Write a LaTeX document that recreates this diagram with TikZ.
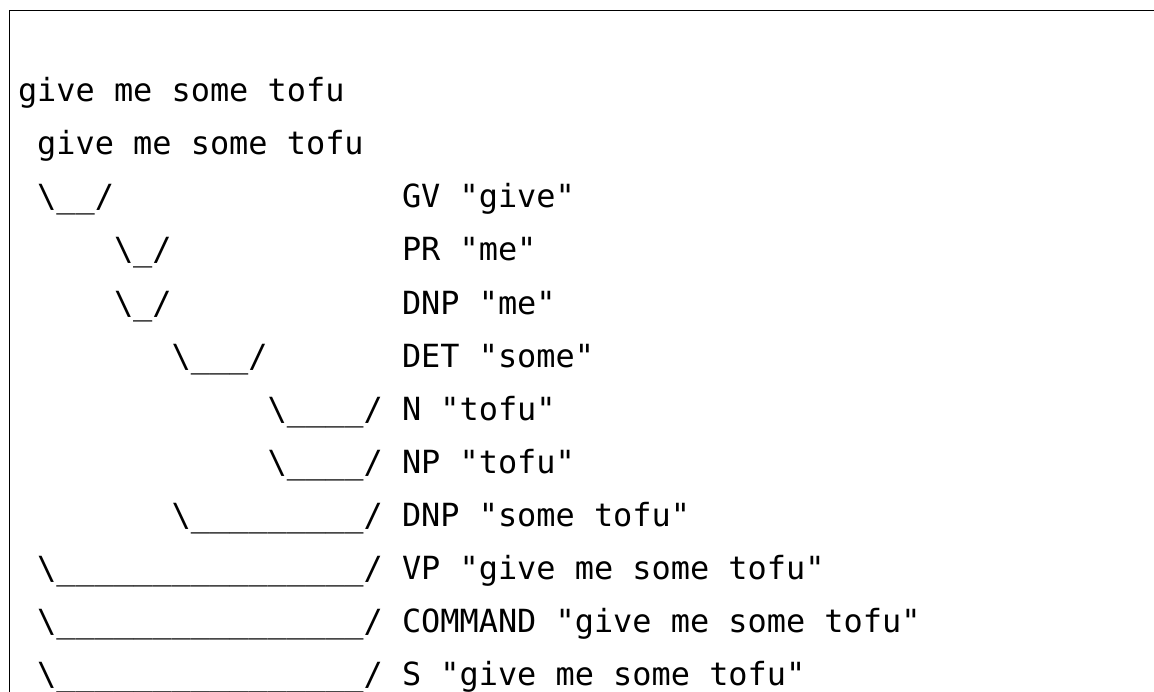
\documentclass[tikz,border=0pt]{standalone}
\usepackage{fontspec}
\setmonofont{DejaVu Sans Mono}
\begin{document}
\begin{tikzpicture}[x=1pt,y=-1pt,
  txt/.style={anchor=base west, inner sep=0pt, outer sep=0pt, font=\ttfamily\fontsize{31.9}{38}\selectfont},
  frame/.style={line width=1pt, black}]
\useasboundingbox (0,0) rectangle (1154,692);
\def\cw{19.2}\def\xo{18}\def\yo{101.7}\def\lh{53.1}
\newcommand{\bs}{\textbackslash}
\coordinate (bl) at (9.5,692);
\coordinate (tl) at (9.5,11);
\coordinate (tr) at (1154,11);
\draw[frame] (bl) -- (tl) -- (tr);
% sentence lines
\node[txt] (s0) at ({\xo+0*\cw},{\yo+0*\lh}) {give me some tofu};
\node[txt] (s1) at ({\xo+1*\cw},{\yo+1*\lh}) {give me some tofu};
% brackets
\node[txt] (b2) at ({\xo+1*\cw},{\yo+2*\lh}) {\bs\_\_/};
\node[txt] (b3) at ({\xo+5*\cw},{\yo+3*\lh}) {\bs\_/};
\node[txt] (b4) at ({\xo+5*\cw},{\yo+4*\lh}) {\bs\_/};
\node[txt] (b5) at ({\xo+8*\cw},{\yo+5*\lh}) {\bs\_\_\_/};
\node[txt] (b6) at ({\xo+13*\cw},{\yo+6*\lh}) {\bs\_\_\_\_/};
\node[txt] (b7) at ({\xo+13*\cw},{\yo+7*\lh}) {\bs\_\_\_\_/};
\node[txt] (b8) at ({\xo+8*\cw},{\yo+8*\lh}) {\bs\_\_\_\_\_\_\_\_\_/};
\node[txt] (b9) at ({\xo+1*\cw},{\yo+9*\lh}) {\bs\_\_\_\_\_\_\_\_\_\_\_\_\_\_\_\_/};
\node[txt] (b10) at ({\xo+1*\cw},{\yo+10*\lh}) {\bs\_\_\_\_\_\_\_\_\_\_\_\_\_\_\_\_/};
\node[txt] (b11) at ({\xo+1*\cw},{\yo+11*\lh}) {\bs\_\_\_\_\_\_\_\_\_\_\_\_\_\_\_\_/};
% labels
\node[txt] (l2) at ({\xo+20*\cw},{\yo+2*\lh}) {GV "give"};
\node[txt] (l3) at ({\xo+20*\cw},{\yo+3*\lh}) {PR "me"};
\node[txt] (l4) at ({\xo+20*\cw},{\yo+4*\lh}) {DNP "me"};
\node[txt] (l5) at ({\xo+20*\cw},{\yo+5*\lh}) {DET "some"};
\node[txt] (l6) at ({\xo+20*\cw},{\yo+6*\lh}) {N "tofu"};
\node[txt] (l7) at ({\xo+20*\cw},{\yo+7*\lh}) {NP "tofu"};
\node[txt] (l8) at ({\xo+20*\cw},{\yo+8*\lh}) {DNP "some tofu"};
\node[txt] (l9) at ({\xo+20*\cw},{\yo+9*\lh}) {VP "give me some tofu"};
\node[txt] (l10) at ({\xo+20*\cw},{\yo+10*\lh}) {COMMAND "give me some tofu"};
\node[txt] (l11) at ({\xo+20*\cw},{\yo+11*\lh}) {S "give me some tofu"};
\end{tikzpicture}
\end{document}
